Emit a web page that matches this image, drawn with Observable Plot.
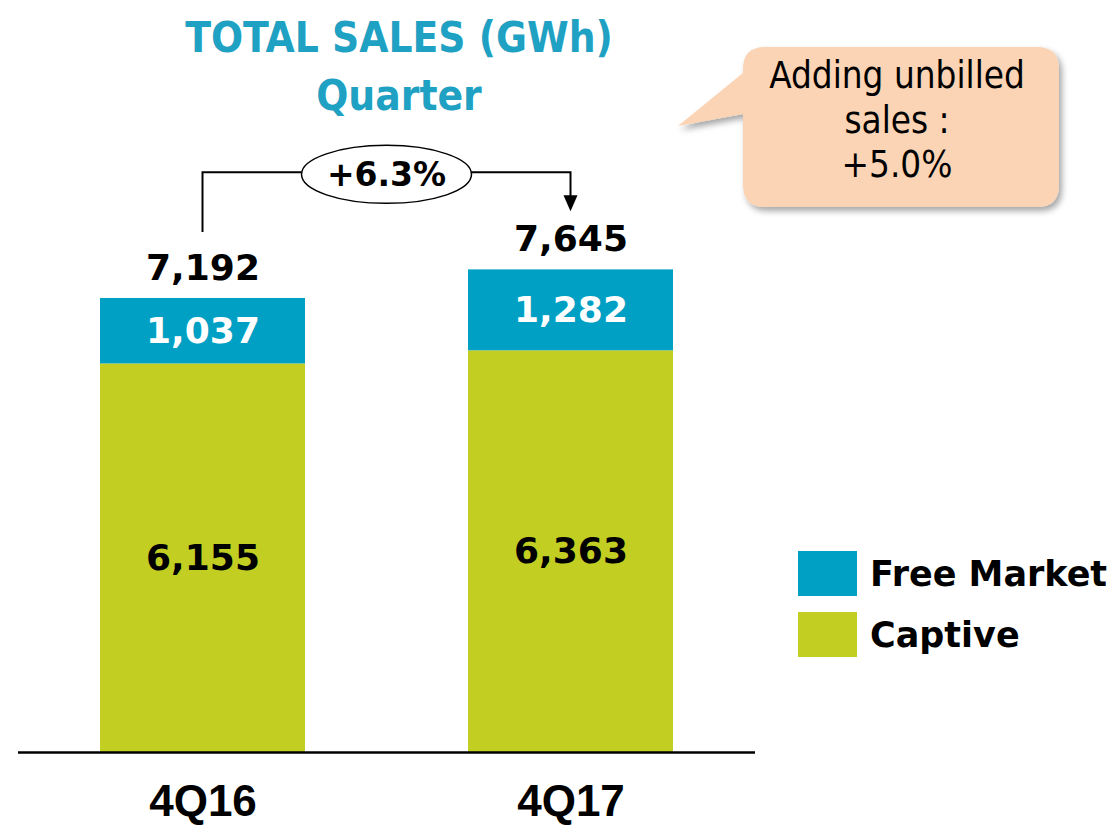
<!DOCTYPE html>
<html><head><meta charset="utf-8">
<script src="https://cdn.jsdelivr.net/npm/d3@7"></script>
<script src="https://cdn.jsdelivr.net/npm/@observablehq/plot@0.6"></script>
<style>html,body{margin:0;padding:0;background:#fff;width:1118px;height:826px;overflow:hidden}</style>
</head><body><div id="chart"></div>
<script>
const quarters = ["4Q16", "4Q17"];
const captive = [6155, 6363];
const freeMarket = [1037, 1282];
const totals = [7192, 7645];
const seriesNames = ["Captive", "Free Market"];
const seriesColors = ["#c2cf22", "#00a0c4"];
const growthLabel = "+6.3%";
const calloutLines = ["Adding unbilled", "sales :", "+5.0%"];
const titleLines = ["TOTAL SALES (GWh)", "Quarter"];
const legendOrder = ["Free Market", "Captive"];

const rows = quarters.flatMap((q, i) => [
  {quarter: q, series: "Captive", value: captive[i], y1: 0, y2: captive[i]},
  {quarter: q, series: "Free Market", value: freeMarket[i], y1: captive[i], y2: captive[i] + freeMarket[i]}
]);
const totalRows = quarters.map((q, i) => ({quarter: q, total: totals[i]}));
const fmt = d3.format(",");
const numFont = "DejaVu Sans, sans-serif";

const chart = Plot.plot({
  width: 1118,
  height: 826,
  marginLeft: 18,
  marginRight: 363,
  marginTop: 0,
  marginBottom: 74,
  style: {background: "white", overflow: "visible"},
  x: {domain: quarters, paddingInner: 0.444, paddingOuter: 0.222, label: null},
  y: {domain: [0, 11912], axis: null},
  color: {domain: seriesNames, range: seriesColors},
  marks: [
    Plot.barY(rows, {x: "quarter", y1: "y1", y2: "y2", fill: "series"}),
    Plot.ruleY([0], {stroke: "black", strokeWidth: 2.5}),
    Plot.text(rows, {
      x: "quarter", y: d => (d.y1 + d.y2) / 2, text: d => fmt(d.value),
      fill: d => d.series === "Free Market" ? "white" : "black",
      fontSize: 36, fontWeight: "bold", fontFamily: numFont
    }),
    Plot.text(totalRows, {
      x: "quarter", y: "total", text: d => fmt(d.total), dy: -30,
      fill: "black", fontSize: 36, fontWeight: "bold", fontFamily: numFont
    }),
    Plot.axisX({
      tickSize: 0, tickPadding: 32, fontSize: 44, fontWeight: "bold",
      fontFamily: "Liberation Sans Narrow, Liberation Sans, Arial, sans-serif",
      fill: "black", label: null
    })
  ]
});
document.getElementById("chart").appendChild(chart);

// Annotations positioned with the chart's own scales
const xs = chart.scale("x"), ys = chart.scale("y");
const cx = q => xs.apply(q) + xs.bandwidth / 2;
const svg = d3.select(chart);
const g = svg.append("g").attr("text-anchor", "middle");

// Growth bracket
const x0 = cx(quarters[0]), x1 = cx(quarters[1]);
const top0 = ys.apply(totals[0]), top1 = ys.apply(totals[1]);
const level = Math.min(top0, top1) - 97;
const ex = (x0 + x1) / 2, rx = 85, ry = 29;
const tipY = top1 - 58;
g.append("path")
  .attr("d", `M${x0},${top0 - 66}V${level}H${ex - rx}M${ex + rx},${level}H${x1}V${tipY - 14}`)
  .attr("fill", "none").attr("stroke", "black").attr("stroke-width", 2);
g.append("path")
  .attr("d", `M${x1 - 7},${tipY - 16}L${x1 + 7},${tipY - 16}L${x1},${tipY}Z`)
  .attr("fill", "black");
g.append("ellipse").attr("cx", ex).attr("cy", level + 2).attr("rx", rx).attr("ry", ry)
  .attr("fill", "white").attr("stroke", "black").attr("stroke-width", 1.5);
g.append("text").attr("x", ex).attr("y", level + 2).attr("dy", "0.36em")
  .attr("text-anchor", "middle").attr("font-family", numFont).attr("font-weight", "bold")
  .attr("font-size", 33).attr("fill", "black").text(growthLabel);

// Title
titleLines.forEach((t, i) => {
  g.append("text").attr("x", 399).attr("y", 52 + i * 58).attr("text-anchor", "middle")
    .attr("font-family", "DejaVu Sans Condensed, DejaVu Sans, sans-serif")
    .attr("font-weight", "bold").attr("font-size", 42).attr("fill", "#1ea1c2").text(t);
});

// Callout bubble
const defs = svg.append("defs");
const f = defs.append("filter").attr("id", "shadow").attr("x", "-20%").attr("y", "-20%").attr("width", "140%").attr("height", "150%");
f.append("feDropShadow").attr("dx", 3).attr("dy", 4).attr("stdDeviation", 3).attr("flood-color", "#000").attr("flood-opacity", 0.35);
const bx0 = 743, bx1 = 1059, by0 = 47, by1 = 207, r = 22;
g.append("path")
  .attr("d", `M${bx0 + r},${by0}H${bx1 - r}Q${bx1},${by0} ${bx1},${by0 + r}V${by1 - r}Q${bx1},${by1} ${bx1 - r},${by1}H${bx0 + r}Q${bx0},${by1} ${bx0},${by1 - r}V114L678,126L${bx0},${by0 + 26}V${by0 + r}Q${bx0},${by0} ${bx0 + r},${by0}Z`)
  .attr("fill", "#fad4b4").attr("filter", "url(#shadow)");
calloutLines.forEach((t, i) => {
  g.append("text").attr("x", 897).attr("y", 88 + i * 44.5).attr("text-anchor", "middle")
    .attr("font-family", "DejaVu Sans Condensed, DejaVu Sans, sans-serif")
    .attr("font-size", 36.5).attr("fill", "black").text(t);
});

// Legend
legendOrder.forEach((name, i) => {
  const y = 551 + i * 61;
  g.append("rect").attr("x", 798).attr("y", y).attr("width", 59).attr("height", 45)
    .attr("fill", seriesColors[seriesNames.indexOf(name)]);
  g.append("text").attr("x", 870).attr("y", y + 22).attr("dy", "0.36em")
    .attr("text-anchor", "start")
    .attr("font-family", numFont).attr("font-weight", "bold").attr("font-size", 35)
    .attr("fill", "black").text(name);
});
</script>
</body></html>
